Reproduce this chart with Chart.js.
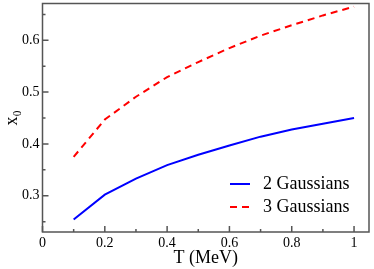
<!DOCTYPE html>
<html>
<head>
<meta charset="utf-8">
<script src="https://cdn.jsdelivr.net/npm/chart.js@4"></script>
<style>
  html, body { margin: 0; padding: 0; background: #fff; }
  #wrap { width: 374px; height: 269px; }
</style>
</head>
<body>
<div id="wrap"><canvas id="myChart"></canvas></div>
<script>
// Data
const tempMeV = [0.1, 0.2, 0.3, 0.4, 0.5, 0.6, 0.7, 0.8, 0.9, 1.0];
const twoGaussians = [0.254, 0.302, 0.333, 0.359, 0.379, 0.397, 0.414, 0.428, 0.439, 0.450];
const threeGaussians = [0.375, 0.447, 0.491, 0.529, 0.558, 0.585, 0.609, 0.629, 0.648, 0.665];
const xMajorTicks = [0, 0.2, 0.4, 0.6, 0.8, 1];
const xMinorTicks = [0.1, 0.3, 0.5, 0.7, 0.9];
const yMajorTicks = [0.3, 0.4, 0.5, 0.6];
const yMinorTicks = [0.25, 0.35, 0.45, 0.55, 0.65];

const serif = "'Liberation Serif', 'DejaVu Serif', serif";
const frameColor = "#555";

function points(ys) {
  return tempMeV.map((t, i) => ({ x: t, y: ys[i] }));
}

// frame, inward ticks and legend box
const framePlugin = {
  id: "frame",
  afterDraw(chart) {
    const ctx = chart.ctx;
    const a = chart.chartArea;
    const xs = chart.scales.x;
    const ys = chart.scales.y;
    ctx.save();
    ctx.strokeStyle = frameColor;
    ctx.lineWidth = 1.5;
    ctx.beginPath();
    xMajorTicks.forEach((v) => {
      const px = xs.getPixelForValue(v);
      ctx.moveTo(px, a.bottom);
      ctx.lineTo(px, a.bottom - 6);
    });
    xMinorTicks.forEach((v) => {
      const px = xs.getPixelForValue(v);
      ctx.moveTo(px, a.bottom);
      ctx.lineTo(px, a.bottom - 3);
    });
    yMajorTicks.forEach((v) => {
      const py = ys.getPixelForValue(v);
      ctx.moveTo(a.left, py);
      ctx.lineTo(a.left + 6, py);
    });
    yMinorTicks.forEach((v) => {
      const py = ys.getPixelForValue(v);
      ctx.moveTo(a.left, py);
      ctx.lineTo(a.left + 3, py);
    });
    ctx.stroke();
    ctx.strokeRect(a.left, a.top, a.right - a.left, a.bottom - a.top);

    // legend
    ctx.font = "18px " + serif;
    ctx.textBaseline = "middle";
    ctx.fillStyle = "#000";
    chart.data.datasets.forEach((ds, i) => {
      const y = 184 + i * 23;
      ctx.strokeStyle = ds.borderColor;
      ctx.lineWidth = ds.borderWidth;
      ctx.setLineDash(ds.borderDash || []);
      ctx.beginPath();
      ctx.moveTo(230, y);
      ctx.lineTo(250, y);
      ctx.stroke();
      ctx.setLineDash([]);
      ctx.fillText(ds.label, 263, y);
    });
    ctx.restore();
  },
};

const data = {
  datasets: [
    {
      label: "2 Gaussians",
      data: points(twoGaussians),
      borderColor: "#0000ff",
      backgroundColor: "#0000ff",
      borderWidth: 2,
      pointRadius: 0,
      tension: 0,
    },
    {
      label: "3 Gaussians",
      data: points(threeGaussians),
      borderColor: "#ff0000",
      backgroundColor: "#ff0000",
      borderWidth: 2,
      borderDash: [7, 5],
      pointRadius: 0,
      tension: 0,
    },
  ],
};

const config = {
  type: "line",
  data: data,
  plugins: [framePlugin],
  options: {
    responsive: true,
    maintainAspectRatio: false,
    animation: false,
    layout: { padding: { left: 0, top: 3.5, right: 5, bottom: 0 } },
    scales: {
      x: {
        type: "linear",
        min: 0,
        max: 1.048,
        afterBuildTicks: (s) => {
          s.ticks = xMajorTicks.map((v) => ({ value: v }));
        },
        afterFit: (s) => {
          s.height = 37;
          s.paddingLeft = 0;
          s.paddingRight = 0;
        },
        ticks: {
          color: "#000",
          font: { family: serif, size: 14 },
          padding: 3,
          maxRotation: 0,
          autoSkip: false,
          callback: (v) => String(v),
        },
        grid: { display: false, drawTicks: false },
        border: { display: false },
        title: {
          display: true,
          text: "T (MeV)",
          color: "#000",
          font: { family: serif, size: 18 },
          padding: { top: 0, bottom: 0 },
        },
      },
      y: {
        type: "linear",
        min: 0.23,
        max: 0.671,
        afterBuildTicks: (s) => {
          s.ticks = yMajorTicks.map((v) => ({ value: v }));
        },
        afterFit: (s) => {
          s.width = 42.5;
          s.paddingTop = 0;
          s.paddingBottom = 0;
        },
        ticks: {
          color: "#000",
          font: { family: serif, size: 14 },
          padding: 3,
          autoSkip: false,
          callback: (v) => String(v),
        },
        grid: { display: false, drawTicks: false },
        border: { display: false },
        title: {
          display: true,
          text: "x₀",
          color: "#000",
          font: { family: serif, size: 18 },
          padding: { top: 1, bottom: 0 },
        },
      },
    },
    plugins: {
      legend: { display: false },
      tooltip: { enabled: false },
    },
  },
};

myChart = new Chart(document.getElementById("myChart"), config);
</script>
</body>
</html>
